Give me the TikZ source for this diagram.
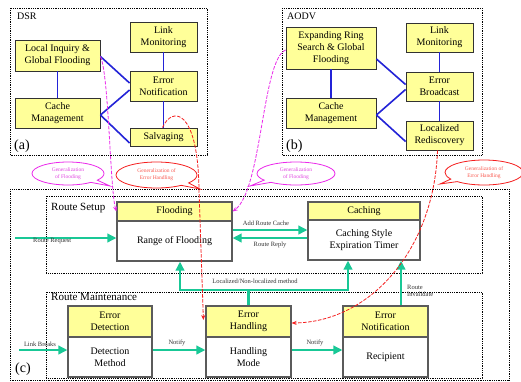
\documentclass[tikz,border=0pt]{standalone}
\usepackage{fontspec}
\setmainfont{Liberation Serif}
\usetikzlibrary{arrows.meta,shapes.callouts,calc}
\definecolor{yfill}{RGB}{255,255,153}
\definecolor{gline}{RGB}{25,200,150}
\definecolor{bline}{RGB}{35,35,215}
\definecolor{mag}{RGB}{235,40,235}
\definecolor{redd}{RGB}{245,30,30}
\definecolor{magtxt}{RGB}{225,70,225}
\definecolor{redtxt}{RGB}{250,90,80}
\definecolor{bord}{RGB}{50,50,50}
\tikzset{
  ybox/.style={draw=bord, line width=0.9pt, fill=yfill, align=center, inner sep=0pt,
    font=\fontsize{10}{12}\selectfont},
  wbox/.style={draw=bord!80, line width=1.2pt, fill=white, align=center, inner sep=0pt,
    font=\fontsize{10}{12}\selectfont},
  hbox/.style={draw=bord!80, line width=1.2pt, fill=yfill, align=center, inner sep=0pt,
    font=\fontsize{10}{12}\selectfont},
  blink/.style={draw=bline, line width=1.6pt},
  garrow/.style={draw=gline, line width=2.2pt, -{Triangle[length=9pt,width=8.5pt]}},
  gplain/.style={draw=gline, line width=2.2pt},
  dotbox/.style={draw=black, line width=0.8pt, densely dotted},
  slabel/.style={font=\fontsize{6.5}{7.5}\selectfont, text=black!80, inner sep=0pt},
  tlabel/.style={font=\fontsize{10}{12}\selectfont, inner sep=0pt, anchor=west},
  biglabel/.style={font=\fontsize{14}{16}\selectfont, inner sep=0pt, anchor=west},
  seclabel/.style={font=\fontsize{11}{13}\selectfont, inner sep=0pt, anchor=west},
  magcall/.style={ellipse callout, draw=mag, line width=0.8pt, fill=white, inner sep=0pt, align=center,
    text=magtxt, font=\fontsize{5.5}{7}\selectfont},
  redcall/.style={ellipse callout, draw=redd, line width=0.8pt, fill=white, inner sep=0pt, align=center,
    text=redtxt, font=\fontsize{5.5}{7}\selectfont},
  magdash/.style={draw=mag, line width=0.8pt, dash pattern=on 3.5pt off 1.5pt, -{Stealth[length=5pt,width=4pt]}},
  reddash/.style={draw=redd, line width=0.8pt, dash pattern=on 3.5pt off 1.5pt, -{Stealth[length=5pt,width=4pt]}},
}
\begin{document}
\begin{tikzpicture}[x=1pt,y=-1pt]
\useasboundingbox (0,0) rectangle (521,381);
\fill[white] (0,0) rectangle (521,381);

% dotted frames
\draw[dotbox] (10,8) rectangle (207,155);
\draw[dotbox] (282,8) rectangle (482,155);
\draw[dotbox] (10,189) rectangle (509,380);
\draw[dotbox] (46,196) rectangle (482,273);
\draw[dotbox] (46,292) rectangle (482,378);

\node[tlabel] (dsr) at (17,16) {DSR};
\node[tlabel] (aodv) at (287,16) {AODV};
\node[biglabel] (la) at (14,146) {(a)};
\node[biglabel] (lb) at (286,146) {(b)};
\node[biglabel] (lc) at (15,369) {(c)};
\node[seclabel] (rs) at (51,208) {Route Setup};
\node[seclabel] (rm) at (51,297) {Route Maintenance};

% DSR boxes
\node[ybox, minimum width=85, minimum height=31] (li) at (57.5,55.5) {Local Inquiry \&\\Global Flooding};
\node[ybox, minimum width=85, minimum height=30] (cm1) at (57.5,113) {Cache\\Management};
\node[ybox, minimum width=67, minimum height=30] (lm1) at (163.5,37) {Link\\Monitoring};
\node[ybox, minimum width=67, minimum height=30] (en1) at (163.5,86) {Error\\Notification};
\node[ybox, minimum width=67, minimum height=18] (sv) at (163.5,137) {Salvaging};
\draw[blink] (li.south) -- (cm1.north);
\draw[blink] (lm1.south) -- (en1.north);
\draw[blink] (en1.south) -- (sv.north);
\draw[blink] ([yshift=-1pt]li.east) -- ([yshift=3pt]en1.west);
\draw[blink] ([yshift=-2pt]cm1.east) -- ([yshift=-4pt]en1.west);
\draw[blink] ([yshift=-2pt]cm1.east) -- ([yshift=-6pt]sv.west);

% AODV boxes
\node[ybox, minimum width=90, minimum height=42] (er) at (331,48) {Expanding Ring\\Search \& Global\\Flooding};
\node[ybox, minimum width=90, minimum height=30] (cm2) at (331,113) {Cache\\Management};
\node[ybox, minimum width=67, minimum height=29] (lm2) at (439.5,37.5) {Link\\Monitoring};
\node[ybox, minimum width=67, minimum height=29] (eb) at (439.5,86.5) {Error\\Broadcast};
\node[ybox, minimum width=67, minimum height=29] (lr) at (439.5,135.5) {Localized\\Rediscovery};
\draw[blink] (er.south) -- (cm2.north);
\draw[blink] (lm2.south) -- (eb.north);
\draw[blink] (eb.south) -- (lr.north);
\draw[blink] ([yshift=-11pt]er.east) -- ([yshift=2pt]eb.west);
\draw[blink] ([yshift=-2pt]cm2.east) -- ([yshift=-3pt]eb.west);
\draw[blink] ([yshift=-2pt]cm2.east) -- ([yshift=-6pt]lr.west);

% Route setup boxes
\node[wbox, minimum width=115, minimum height=40] (fb) at (174.5,241) {Range of Flooding};
\node[hbox, minimum width=115, minimum height=19] (fh) at (174.5,211.5) {Flooding};
\node[wbox, minimum width=112, minimum height=40] (cb) at (364,240) {Caching Style\\Expiration Timer};
\node[hbox, minimum width=112, minimum height=18] (ch) at (364,211) {Caching};

% Route maintenance boxes
\node[wbox, minimum width=84, minimum height=40] (edb) at (110,357) {Detection\\Method};
\node[hbox, minimum width=84, minimum height=31] (edh) at (110,321.5) {Error\\Detection};
\node[wbox, minimum width=85, minimum height=40] (ehb) at (248.5,357) {Handling\\Mode};
\node[hbox, minimum width=85, minimum height=31] (ehh) at (248.5,321.5) {Error\\Handling};
\node[wbox, minimum width=85, minimum height=40] (enb) at (385.5,357) {Recipient};
\node[hbox, minimum width=85, minimum height=31] (enh) at (385.5,321.5) {Error\\Notification};

% green arrows
\coordinate (rrs) at (15,238);
\draw[garrow] (rrs) -- (rrs -| fb.west);
\node[slabel, anchor=west] (rrl) at (33,241) {Route Request};
\draw[garrow] ([yshift=11pt]fb.east) -- ([yshift=10pt]cb.west);
\node[slabel] (arc) at (266,223) {Add Route Cache};
\draw[garrow] ([yshift=2pt]cb.west) -- ([yshift=3pt]fb.east);
\node[slabel] (rrp) at (270,244.5) {Route Reply};
\coordinate (lmc) at (248.5,290);
\draw[gplain] (ehh.north) -- (lmc);
\draw[garrow] (lmc) -| ([xshift=5.5pt]fb.south);
\draw[garrow] (lmc) -| ([xshift=-16pt]cb.south);
\node[slabel] (lnl) at (255,281.5) {Localized/Non-localized method};
\draw[garrow] ([xshift=15.5pt]enh.north) -- ([xshift=37pt]cb.south);
\node[slabel, anchor=west, align=left] (ri) at (407,291) {Route\\Invalidate};
\coordinate (lbs) at (19,350);
\draw[garrow] (lbs) -- (lbs -| edb.west);
\node[slabel] (lbl) at (40,344) {Link Breaks};
\draw[garrow] ([yshift=7pt]edb.east) -- ([yshift=7pt]ehb.west);
\node[slabel] (n1) at (177,343) {Notify};
\draw[garrow] ([yshift=7pt]ehb.east) -- ([yshift=7pt]enb.west);
\node[slabel] (n2) at (315,343) {Notify};

% callouts
\node[magcall, minimum width=72, minimum height=23, callout absolute pointer={(110,186)}] (c1) at (68,173.5) {Generalization\\of Flooding};
\node[redcall, minimum width=81, minimum height=26, callout absolute pointer={(200,189)}] (c2) at (156.5,175) {Generalization of\\Error Handling};
\node[magcall, minimum width=78, minimum height=23, callout absolute pointer={(250,186)}] (c3) at (296,173.5) {Generalization\\of Flooding};
\node[redcall, minimum width=78, minimum height=25, callout absolute pointer={(440,184)}] (c4) at (484,172.5) {Generalization of\\Error Handling};

% dashed curves
\draw[magdash] ([yshift=-1pt]li.east) .. controls (109,75) and (110,190) .. (fh.west);
\draw[magdash] ([yshift=-2pt]er.west) .. controls (262,60) and (262,190) .. (fh.east);
\draw[reddash] ([xshift=-1pt]sv.north) .. controls (172,106) and (198,108) .. (199,190) -- ([xshift=-2pt,yshift=1.5pt]ehh.west);
\draw[reddash] ([xshift=-2pt]lr.south) .. controls (434,250) and (370,322) .. ([yshift=-1.5pt]ehh.east);
\end{tikzpicture}
\end{document}
